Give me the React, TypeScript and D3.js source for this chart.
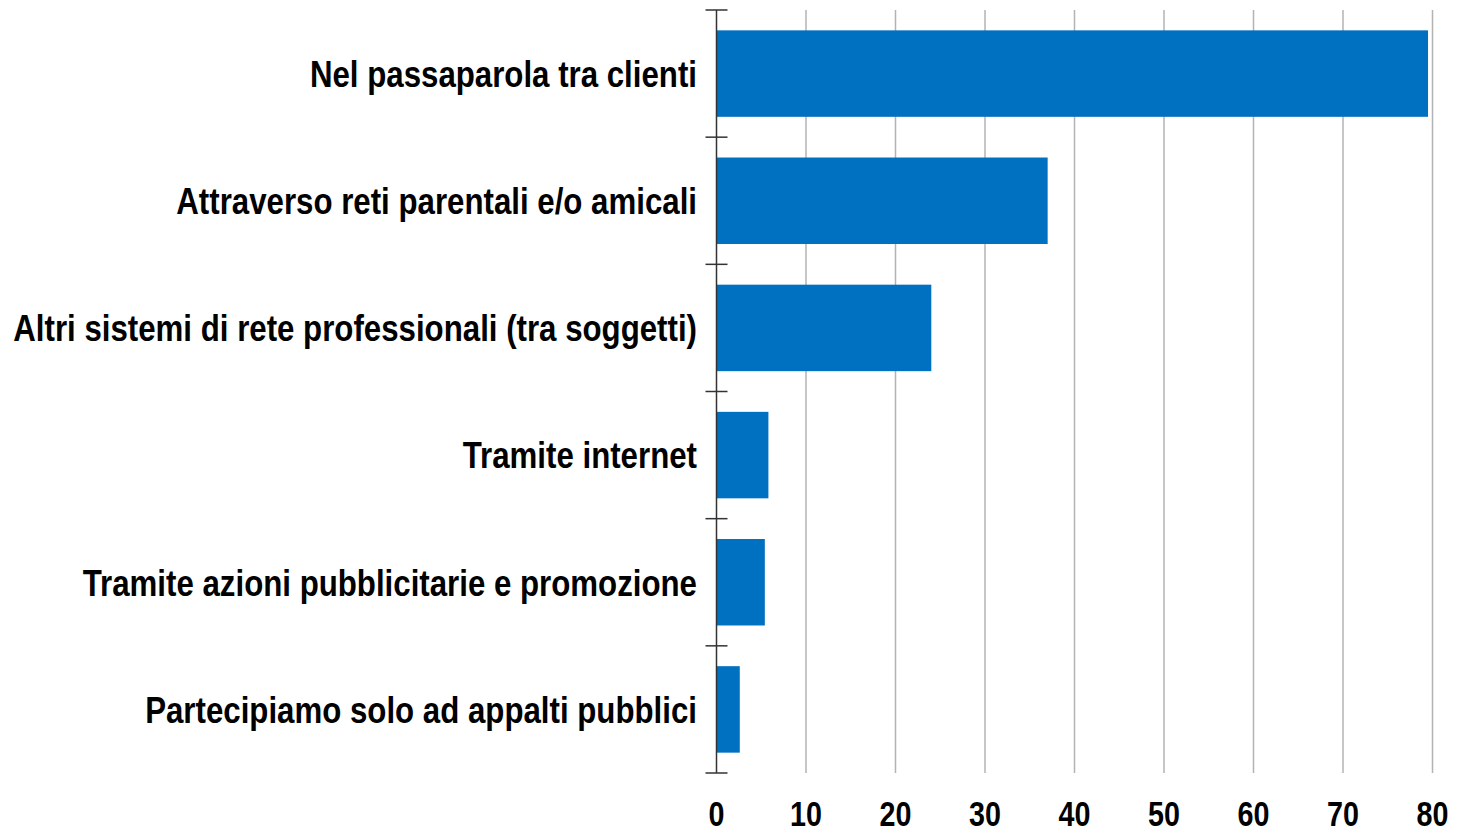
import React from "react";
import * as d3 from "d3";

const categories = [
  "Nel passaparola tra clienti",
  "Attraverso reti parentali e/o amicali",
  "Altri sistemi di rete professionali (tra soggetti)",
  "Tramite internet",
  "Tramite azioni pubblicitarie e promozione",
  "Partecipiamo solo ad appalti pubblici",
];
const values = [79.5, 37.0, 24.0, 5.8, 5.4, 2.6];
const xTicks = [0, 10, 20, 30, 40, 50, 60, 70, 80];

const W = 1460;
const H = 834;
const left = 716.5;
const right = 1432.5;
const top = 10;
const bottom = 773;
const font = "'Liberation Sans', Arial, sans-serif";

export default function App() {
  const x = d3.scaleLinear().domain([0, 80]).range([left, right]);
  const y = d3
    .scaleBand<string>()
    .domain(categories)
    .range([top, bottom])
    .paddingInner(0.32)
    .paddingOuter(0.16);
  const band = (bottom - top) / categories.length;
  const boundaries = d3.range(categories.length + 1).map((i) => top + i * band);

  return (
    <svg
      width={W}
      height={H}
      style={{ position: "absolute", left: 0, top: 0, background: "#fff" }}
    >
      {xTicks.slice(1).map((t) => (
        <line
          key={"g" + t}
          x1={x(t)}
          x2={x(t)}
          y1={top}
          y2={bottom}
          stroke="#b3b3b3"
          strokeWidth={1.5}
        />
      ))}
      {categories.map((c, i) => (
        <rect
          key={c}
          x={x(0)}
          y={y(c)}
          width={x(values[i]) - x(0)}
          height={y.bandwidth()}
          fill="#0070c0"
        />
      ))}
      <line x1={left} x2={left} y1={top} y2={bottom} stroke="#333" strokeWidth={1.5} />
      {boundaries.map((b, i) => (
        <line key={"t" + i} x1={left - 11} x2={left + 11} y1={b} y2={b} stroke="#333" strokeWidth={1.5} />
      ))}
      {categories.map((c) => (
        <text
          key={"l" + c}
          transform={`translate(697,${(y(c) as number) + y.bandwidth() / 2}) scale(0.868,1)`}
          dy="0.37em"
          textAnchor="end"
          fontFamily={font}
          fontWeight="bold"
          fontSize={36}
          fill="#000"
        >
          {c}
        </text>
      ))}
      {xTicks.map((t) => (
        <text
          key={"x" + t}
          transform={`translate(${x(t)},826) scale(0.82,1)`}
          textAnchor="middle"
          fontFamily={font}
          fontWeight="bold"
          fontSize={35}
          fill="#000"
        >
          {t}
        </text>
      ))}
    </svg>
  );
}
